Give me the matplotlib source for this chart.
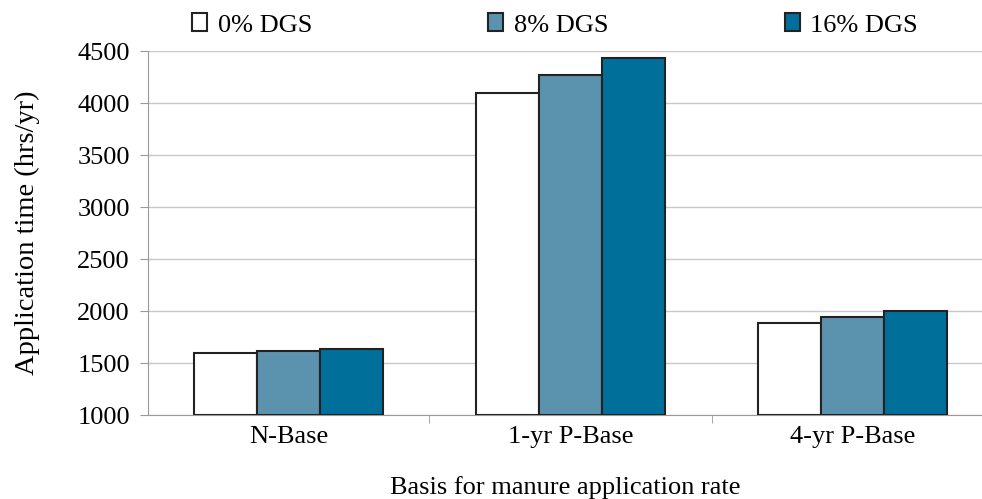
import numpy as np
import matplotlib.pyplot as plt

categories = ['N-Base', '1-yr P-Base', '4-yr P-Base']
series_names = ['0% DGS', '8% DGS', '16% DGS']
dgs_0 = [1600, 4100, 1885]
dgs_8 = [1615, 4265, 1940]
dgs_16 = [1632, 4433, 2003]
colors = ['white', '#5b93ae', '#00709b']

plt.rcParams['font.family'] = ['Liberation Serif', 'DejaVu Serif']

fig = plt.figure(figsize=(9.82, 4.99), dpi=100)
ax = fig.add_axes([148 / 982, 1 - 415 / 499, 834 / 982, 364 / 499])

x = np.arange(len(categories))
w = 0.2234
for i, (vals, name, col) in enumerate(zip([dgs_0, dgs_8, dgs_16], series_names, colors)):
    ax.bar(x + (i - 1) * w, np.array(vals) - 1000, width=w, bottom=1000,
           color=col, edgecolor='#222222', linewidth=1.5, label=name, zorder=3)

ax.set_ylim(1000, 4500)
ax.set_xlim(-0.498, 2.459)
ax.set_yticks(np.arange(1000, 4501, 500))
ax.yaxis.grid(True, color='#c8c8c8', linewidth=1, zorder=0)
ax.set_axisbelow(True)

ax.set_xticks(x)
ax.set_xticklabels(categories, fontsize=19)
ax.set_xticks([0.5, 1.5], minor=True)
ax.tick_params(axis='x', which='major', length=0, pad=8)
ax.tick_params(axis='x', which='minor', length=6, color='#999999')
ax.tick_params(axis='y', labelsize=19, length=6, color='#999999', pad=7)

for s in ['top', 'right']:
    ax.spines[s].set_visible(False)
for s in ['left', 'bottom']:
    ax.spines[s].set_color('#999999')

ax.set_ylabel('Application time (hrs/yr)', fontsize=20.5)
ax.yaxis.set_label_coords(-0.1295, 0.5)
ax.set_xlabel('Basis for manure application rate', fontsize=19)
ax.xaxis.set_label_coords(0.5, -0.168)

ax.legend(loc='center left', bbox_to_anchor=(192 / 982, 1 - 25 / 499),
          bbox_transform=fig.transFigure, ncol=3, frameon=False,
          fontsize=19, handlelength=0.57, handleheight=0.65, handletextpad=0.4,
          columnspacing=6.68, borderpad=0, borderaxespad=0)

fig.savefig('out.png', dpi=100)
